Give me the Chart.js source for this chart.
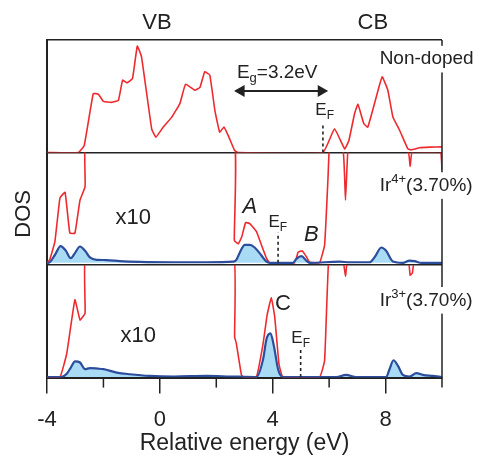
<!DOCTYPE html>
<html lang="en">
<head>
<meta charset="UTF-8">
<title>DOS - Ir doped</title>
<style>
  body { margin: 0; background: #fff; }
  canvas { display: block; }
</style>
</head>
<body>
<canvas id="dosChart" width="482" height="459"></canvas>
<script src="https://cdn.jsdelivr.net/npm/chart.js"></script>
<script>
// DOS values (arbitrary units, ~10 = panel top)
// anything above the top of a panel is just clipped by the panel

// top panel, non-doped
const nonDopedE   = [-4, -2.89, -2.68, -2.36, -2.18, -2.0, -1.71, -1.47, -1.32, -1.16, -0.97, -0.80, -0.65, -0.29, -0.14, 0.12, 0.41, 0.71, 0.91, 1.24, 1.42, 1.59, 1.77, 1.95, 2.12, 2.27, 2.42, 2.65, 2.77, 5.78, 6.19, 6.55, 6.70, 6.90, 7.02, 7.23, 7.37, 7.67, 7.88, 8.08, 8.26, 8.50, 8.79, 8.91, 9.20, 9.56, 10];
const nonDopedDos = [0, 0, 0.63, 5.24, 5.18, 4.55, 4.46, 4.64, 6.43, 6.19, 6.58, 9.46, 8.51, 2.11, 1.37, 2.26, 3.1, 4.35, 6.07, 5.54, 5.78, 7.17, 6.88, 3.75, 1.81, 2.26, 1.52, 0.18, 0, 0, 2.11, 0.33, 1.07, 3.45, 4.29, 2.56, 2.26, 4.94, 6.73, 5.54, 3.15, 1.96, 0.33, 0.24, 0.42, 0.48, 0.5];

// middle panel, Ir4+ (total x10 in red, Ir partial in blue)
const ir4TotalE   = [-4, -3.9, -3.72, -3.54, -3.36, -3.19, -3.01, -2.83, -2.65, -2.58, 2.57, 2.64, 2.78, 2.9, 3.04, 3.19, 3.42, 3.6, 3.78, 3.89, 4.78, 4.9, 5.05, 5.19, 5.31, 5.66, 5.84, 5.96, 6.05, 6.5, 6.58, 6.66, 6.8, 8.8, 8.87, 8.94, 9.5, 9.95, 10];
const ir4TotalDos = [0, 0.3, 1.9, 5.8, 6.3, 2.65, 2.65, 5.6, 6.8, 12, 12, 2.0, 1.7, 2.3, 3.6, 3.5, 2.8, 1.6, 0.4, 0, 0, 0.95, 1.07, 0.56, 0.05, 0, 1.6, 7.6, 12, 9.9, 5.6, 9.9, 12, 9.9, 8.6, 9.9, 9.9, 9.9, 8.3];
const ir4PartE    = [-4, -3.95, -3.72, -3.52, -3.33, -3.16, -3.01, -2.83, -2.65, -2.48, -2.24, -1.89, -1.42, -0.71, 0.47, 1.65, 2.6, 2.71, 2.83, 3.01, 3.19, 3.36, 3.6, 3.78, 3.9, 4.72, 4.84, 5.02, 5.19, 5.31, 6.37, 6.73, 7.43, 7.61, 7.85, 8.02, 8.26, 8.61, 8.85, 9.03, 9.27, 10];
const ir4PartDos  = [0, 0, 0.7, 1.5, 1.07, 0.42, 0.87, 1.46, 1.07, 0.48, 0.27, 0.25, 0.15, 0.08, 0.05, 0.05, 0.1, 0.27, 0.9, 1.6, 1.6, 1.37, 0.66, 0.1, 0, 0, 0.36, 0.6, 0.2, 0, 0.1, 0.05, 0.05, 0.5, 1.37, 1.07, 0.12, 0, 0.2, 0.15, 0, 0];

// bottom panel, Ir3+
const ir3TotalE   = [-4, -3.54, -3.3, -3.01, -2.83, -2.65, -2.58, 2.55, 2.65, 2.71, 2.89, 2.95, 3.42, 3.66, 3.8, 3.95, 4.07, 4.22, 4.36, 5.66, 5.84, 6.02, 6.5, 6.58, 6.66, 8.8, 8.87, 8.95, 9.02, 10];
const ir3TotalDos = [0, 0, 2.1, 6.9, 5.1, 5.7, 12, 12, 3.6, 3.0, 0.2, 0, 0, 3.0, 5.5, 7.1, 5.4, 1.2, 0, 0, 1.5, 12, 10.3, 9.0, 10.3, 10.3, 9.1, 9.3, 10.3, 10.3];
const ir3PartE    = [-4, -3.5, -3.3, -3.19, -3.0, -2.83, -2.65, -2.48, -2.2, -2.0, -1.53, -1.06, -0.35, 0.5, 1.65, 2.5, 3.42, 3.66, 3.78, 3.92, 4.04, 4.19, 4.36, 6.25, 6.6, 6.96, 8.02, 8.14, 8.28, 8.44, 8.61, 8.85, 9.09, 9.32, 9.67, 10];
const ir3PartDos  = [0, 0, 0.3, 0.7, 1.4, 1.3, 0.7, 0.8, 0.75, 0.7, 0.4, 0.25, 0.1, 0.05, 0.1, 0.05, 0, 1.6, 3.4, 3.9, 2.8, 0.7, 0, 0, 0.2, 0, 0, 0.7, 1.5, 1.0, 0.2, 0.05, 0.35, 0.2, 0.1, 0];

// Fermi levels (eV) and height of the dashed marker
const fermiE      = [5.78, 4.19, 4.99];
const fermiHeight = [2.4, 2.7, 2.65];

// band gap arrow (arrowhead centres)
const gapArrowE   = [2.88, 5.72];
const gapArrowDos = 5.47;

const xTicks      = [-4, -2, 0, 2, 4, 6, 8, 10];
const xTickLabels = ['-4', '', '0', '', '4', '', '8', ''];

const RED = '#ee2a2f', BLUE = '#2c4c9c', FILL = '#a9dcf4', INK = '#222';
const FONT = '"Liberation Sans", Arial, sans-serif';

const pts = (xs, ys) => xs.map((x, i) => ({ x: x, y: ys[i] }));
const vline = (e, h) => [{ x: e, y: 0 }, { x: e, y: h }];

// text put on the plot, positioned in data units of a panel
const notes = [
  { axis: 'yTop', e: 2.73, v: 7.1, parts: [{ t: 'E' }, { t: 'g', sub: true }, { t: '=3.2eV' }], size: 19, align: 'left' },
  { axis: 'yTop', e: 5.84, v: 3.75, parts: [{ t: 'E' }, { t: 'F', sub: true }], size: 17, align: 'center' },
  { axis: 'yTop', e: 7.79, v: 8.3, parts: [{ t: 'Non-doped' }], size: 19, align: 'left', box: true },
  { axis: 'yMid', e: -0.94, v: 4.0, parts: [{ t: 'x10' }], size: 22, align: 'center' },
  { axis: 'yMid', e: 3.19, v: 5.0, parts: [{ t: 'A' }], size: 22, align: 'center', italic: true },
  { axis: 'yMid', e: 4.18, v: 3.6, parts: [{ t: 'E' }, { t: 'F', sub: true }], size: 17, align: 'center' },
  { axis: 'yMid', e: 5.37, v: 2.5, parts: [{ t: 'B' }], size: 22, align: 'center', italic: true },
  { axis: 'yMid', e: 7.79, v: 6.9, parts: [{ t: 'Ir' }, { t: '4+', sup: true }, { t: '(3.70%)' }], size: 19, align: 'left', box: true },
  { axis: 'yBot', e: -0.77, v: 3.7, parts: [{ t: 'x10' }], size: 22, align: 'center' },
  { axis: 'yBot', e: 4.36, v: 6.5, parts: [{ t: 'C' }], size: 22, align: 'center' },
  { axis: 'yBot', e: 4.99, v: 3.5, parts: [{ t: 'E' }, { t: 'F', sub: true }], size: 17, align: 'center' },
  { axis: 'yBot', e: 7.79, v: 6.85, parts: [{ t: 'Ir' }, { t: '3+', sup: true }, { t: '(3.70%)' }], size: 19, align: 'left', box: true }
];

function richText(ctx, parts, x, y, size, align, italic, box) {
  const fontOf = p => (italic ? 'italic ' : '') + ((p.sub || p.sup) ? Math.round(size * 0.68) : size) + 'px ' + FONT;
  let w = 0;
  parts.forEach(p => { ctx.font = fontOf(p); w += ctx.measureText(p.t).width; });
  let cx = align === 'center' ? x - w / 2 : x;
  if (box) {
    ctx.fillStyle = '#fff';
    ctx.fillRect(cx - 2, y - size * 0.7, w + 4, size * 1.4);
  }
  ctx.fillStyle = INK;
  ctx.textAlign = 'left';
  ctx.textBaseline = 'middle';
  parts.forEach(p => {
    ctx.font = fontOf(p);
    const dy = p.sub ? size * 0.32 : (p.sup ? -size * 0.3 : 0);
    ctx.fillText(p.t, cx, y + dy);
    cx += ctx.measureText(p.t).width;
  });
}

const figText = {
  id: 'figText',
  afterDraw(chart) {
    const ctx = chart.ctx, xs = chart.scales.x, area = chart.chartArea;
    ctx.save();
    ctx.strokeStyle = INK;
    ctx.lineWidth = 1.5;
    // right frame line
    const xr = xs.getPixelForValue(10);
    ctx.beginPath();
    ctx.moveTo(xr, area.top);
    ctx.lineTo(xr, area.bottom);
    ctx.stroke();
    // minor ticks on the energy axis
    xTicks.forEach((v, i) => {
      if (xTickLabels[i] !== '') return;
      const px = xs.getPixelForValue(v);
      ctx.beginPath();
      ctx.moveTo(px, area.bottom);
      ctx.lineTo(px, area.bottom + 10);
      ctx.stroke();
    });
    // band labels above the frame
    richText(ctx, [{ t: 'VB' }], xs.getPixelForValue(-0.1), area.top - 17, 22, 'center');
    richText(ctx, [{ t: 'CB' }], xs.getPixelForValue(7.55), area.top - 17, 22, 'center');
    notes.forEach(n => {
      const ys = chart.scales[n.axis];
      richText(ctx, n.parts, xs.getPixelForValue(n.e), ys.getPixelForValue(n.v), n.size, n.align, n.italic, n.box);
    });
    // axis titles
    richText(ctx, [{ t: 'Relative energy (eV)' }], (area.left + area.right) / 2, area.bottom + 66, 23, 'center');
    const mid = chart.scales.yMid;
    ctx.translate(area.left - 23, (mid.top + mid.bottom) / 2 + 5);
    ctx.rotate(-Math.PI / 2);
    richText(ctx, [{ t: 'DOS' }], 0, 0, 22, 'center');
    ctx.restore();
  }
};

const totalLine = (data, axis) => ({
  data: data, yAxisID: axis, borderColor: RED, borderWidth: 1.6,
  tension: 0.1, fill: false, pointRadius: 0
});
const partLine = (data, axis) => ({
  data: data, yAxisID: axis, borderColor: BLUE, borderWidth: 2.2,
  cubicInterpolationMode: 'monotone', fill: 'origin', backgroundColor: FILL, pointRadius: 0
});
const fermiLine = (i, axis) => ({
  data: vline(fermiE[i], fermiHeight[i]), yAxisID: axis, borderColor: INK,
  borderWidth: 1.6, borderDash: [3, 3], pointRadius: 0, fill: false
});

const panelY = (min, max) => ({
  type: 'linear', position: 'left', stack: 'dos', stackWeight: 1,
  min: min, max: max,
  afterBuildTicks: axis => { axis.ticks = [{ value: max }]; },
  ticks: { display: false },
  grid: { color: INK, lineWidth: 1.5, drawTicks: false },
  border: { display: true, color: INK, width: 2 }
});

new Chart(document.getElementById('dosChart'), {
  type: 'line',
  data: {
    datasets: [
      {
        data: gapArrowE.map(e => ({ x: e, y: gapArrowDos })), yAxisID: 'yTop',
        borderColor: INK, borderWidth: 2, pointStyle: 'triangle', pointRadius: 5,
        pointRotation: c => (c.dataIndex === 0 ? -90 : 90),
        pointBackgroundColor: INK, pointBorderColor: INK, fill: false
      },
      fermiLine(0, 'yTop'),
      fermiLine(1, 'yMid'),
      fermiLine(2, 'yBot'),
      partLine(pts(ir4PartE, ir4PartDos), 'yMid'),
      partLine(pts(ir3PartE, ir3PartDos), 'yBot'),
      totalLine(pts(nonDopedE, nonDopedDos), 'yTop'),
      totalLine(pts(ir4TotalE, ir4TotalDos), 'yMid'),
      totalLine(pts(ir3TotalE, ir3TotalDos), 'yBot')
    ]
  },
  options: {
    responsive: false,
    animation: false,
    layout: { padding: { left: 47, right: 40, top: 40, bottom: 13 } },
    plugins: { legend: { display: false }, tooltip: { enabled: false } },
    scales: {
      x: {
        type: 'linear', position: 'bottom', min: -4, max: 10,
        afterBuildTicks: axis => { axis.ticks = xTicks.map(v => ({ value: v })); },
        ticks: {
          color: INK, font: { family: FONT, size: 22 }, padding: 13, maxRotation: 0,
          callback: (v) => xTickLabels[xTicks.indexOf(v)]
        },
        grid: {
          drawOnChartArea: false, tickLength: 16, lineWidth: 1.5,
          tickColor: c => (c.tick && xTickLabels[xTicks.indexOf(c.tick.value)] !== '' ? INK : 'rgba(0,0,0,0)')
        },
        border: { display: true, color: INK, width: 2 }
      },
      yBot: panelY(-0.05, 10),
      yMid: panelY(-0.2, 9.85),
      yTop: panelY(0, 10)
    }
  },
  plugins: [figText]
});
</script>
</body>
</html>
